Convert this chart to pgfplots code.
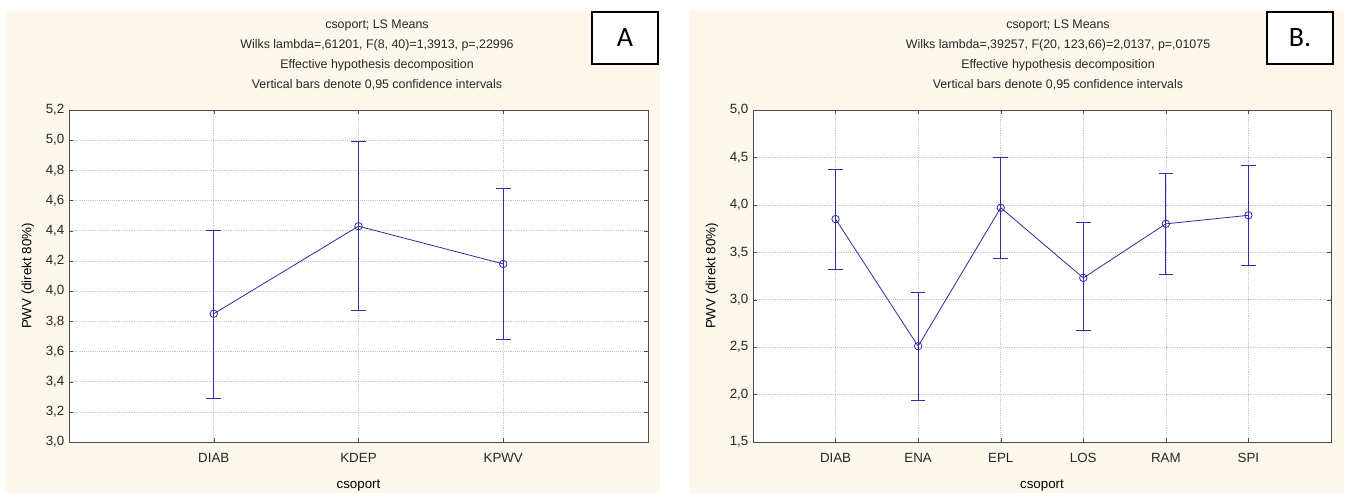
\documentclass[border=0pt]{standalone}
\usepackage{fontspec}
\setmainfont{Liberation Sans}
\newfontfamily\boxfont{Carlito}
\usepackage{pgfplots}
\pgfplotsset{compat=1.18}
\usepackage{pgfplotstable}

\definecolor{cream}{RGB}{253,248,235}
\definecolor{navy}{RGB}{45,45,160}

% LS means with 0.95 CI (lo, hi)
\pgfplotstableread{
x y lo hi
1 3.85 3.29 4.40
2 4.43 3.87 4.99
3 4.18 3.68 4.68
}\dataA
\pgfplotstableread{
x y lo hi
1 3.85 3.32 4.37
2 2.51 1.94 3.08
3 3.97 3.44 4.50
4 3.23 2.68 3.81
5 3.80 3.27 4.33
6 3.89 3.36 4.42
}\dataB

\pgfplotsset{
  statplot/.style={
    scale only axis,
    height=249pt,
    xtick=data,
    tick pos=both, tick align=inside,
    major tick length=3pt,
    tick style={black!70},
    axis line style={black!70},
    axis background/.style={fill=white},
    grid=major,
    grid style={densely dotted, gray!45},
    ticklabel style={font=\fontsize{10}{12}\selectfont, text=black!85},
    xticklabel style={yshift=-5pt},
    label style={font=\fontsize{10.5}{12}\selectfont, text=black!85},
    /pgf/number format/assume math mode=true,
    /pgf/number format/use comma,
    /pgf/number format/fixed,
    /pgf/number format/fixed zerofill,
    /pgf/number format/precision=1,
    xlabel={csoport},
    ylabel={PWV (direkt 80\%)},
  },
  ciplot/.style={
    navy, line width=0.6pt, mark=o, mark size=2.8pt,
    mark options={line width=0.6pt},
    error bars/.cd, y dir=both, y explicit,
    error bar style={navy, line width=0.6pt},
    error mark options={draw=navy, color=navy, rotate=90, mark size=5.5pt, line width=0.6pt},
  },
}

\begin{document}
\begin{tikzpicture}[x=0.75pt, y=0.75pt]
\clip (0,0) rectangle (1359,493);
\fill[white] (0,0) rectangle (1359,493);
% panels
\fill[cream] (6,0) rectangle (660,483);
\fill[cream] (689,0) rectangle (1344,483);

% panel A
\begin{axis}[statplot,
  at={(51.75pt,38.25pt)}, anchor=south west,
  width=434.25pt,
  xmin=0, xmax=4,
  ymin=3, ymax=5.2,
  ytick={3,3.2,3.4,3.6,3.8,4,4.2,4.4,4.6,4.8,5,5.2},
  xticklabels={DIAB,KDEP,KPWV},
  every axis y label/.style={at={(axis description cs:-0.0708,0.5)}, rotate=90, anchor=center},
  every axis x label/.style={at={(axis description cs:0.5,-0.13)}, anchor=center},
]
\addplot[ciplot] table[x=x, y=y, y error plus expr=\thisrow{hi}-\thisrow{y}, y error minus expr=\thisrow{y}-\thisrow{lo}] {\dataA};
\end{axis}

% panel B
\begin{axis}[statplot,
  at={(564.75pt,38.25pt)}, anchor=south west,
  width=433.5pt,
  xmin=0, xmax=7,
  ymin=1.5, ymax=5,
  ytick={1.5,2,2.5,3,3.5,4,4.5,5},
  xticklabels={DIAB,ENA,EPL,LOS,RAM,SPI},
  every axis y label/.style={at={(axis description cs:-0.0709,0.5)}, rotate=90, anchor=center},
  every axis x label/.style={at={(axis description cs:0.5,-0.13)}, anchor=center},
]
\addplot[ciplot] table[x=x, y=y, y error plus expr=\thisrow{hi}-\thisrow{y}, y error minus expr=\thisrow{y}-\thisrow{lo}] {\dataB};
\end{axis}

% titles
\begin{scope}[every node/.style={font=\fontsize{9.3}{11}\selectfont, text=black!85, anchor=center}]
\node at (377,468) {csoport; LS Means};
\node at (377,448) {Wilks lambda=,61201, F(8, 40)=1,3913, p=,22996};
\node at (377,428) {Effective hypothesis decomposition};
\node at (377,408) {Vertical bars denote 0,95 confidence intervals};
\node at (1058,468) {csoport; LS Means};
\node at (1058,448) {Wilks lambda=,39257, F(20, 123,66)=2,0137, p=,01075};
\node at (1058,428) {Effective hypothesis decomposition};
\node at (1058,408) {Vertical bars denote 0,95 confidence intervals};
\end{scope}

% panel letters
\draw[fill=white, line width=0.9pt] (592,429) rectangle (658,481);
\node[font=\boxfont\fontsize{21}{24}\selectfont] at (625,455) {A};
\draw[fill=white, line width=0.9pt] (1267,429) rectangle (1333,481);
\node[font=\boxfont\fontsize{21}{24}\selectfont] at (1300,455) {B.};
\end{tikzpicture}
\end{document}
